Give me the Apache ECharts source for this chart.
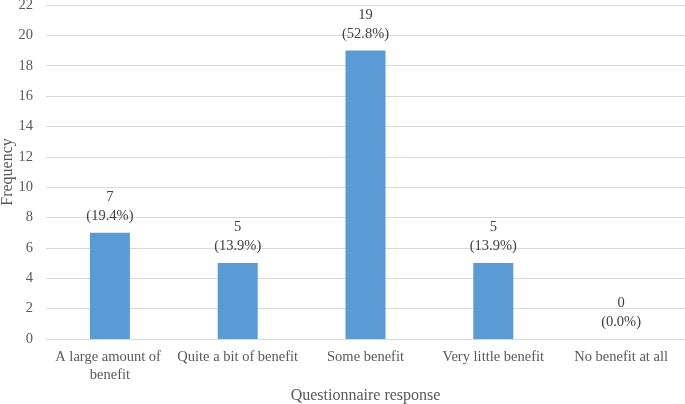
<!DOCTYPE html>
<html><head><meta charset="utf-8">
<script src="https://cdn.jsdelivr.net/npm/echarts@6/dist/echarts.min.js"></script>
<style>html,body{margin:0;padding:0;background:#fff}#c{width:685px;height:404px}</style>
</head><body><div id="c"></div>
<script>
const categories = ['A large amount of benefit','Quite a bit of benefit','Some benefit','Very little benefit','No benefit at all'];
const frequencies = [7,5,19,5,0];
const percents = ['19.4%','13.9%','52.8%','13.9%','0.0%'];
const yTicks = {min:0,max:22,interval:2};

const font = '"Liberation Serif","Times New Roman",serif';
const chart = echarts.init(document.getElementById('c'), null, {renderer:'canvas'});
chart.setOption({
  animation:false,
  grid:{left:46,right:0,top:5,bottom:65,containLabel:false,outerBoundsMode:'none'},
  xAxis:{type:'category',data:categories,
    name:'Questionnaire response',nameLocation:'middle',nameGap:49,nameMoveOverlap:false,
    nameTextStyle:{fontFamily:font,fontSize:16,color:'#595959'},
    axisTick:{show:false},
    axisLine:{lineStyle:{color:'#d9d9d9',width:1}},
    axisLabel:{fontFamily:font,fontSize:14.5,color:'#595959',margin:9,interval:0,width:124,overflow:'break',lineHeight:18}
  },
  yAxis:{type:'value',min:yTicks.min,max:yTicks.max,interval:yTicks.interval,
    name:'Frequency',nameLocation:'middle',nameGap:30,nameRotate:90,nameMoveOverlap:false,
    nameTextStyle:{fontFamily:font,fontSize:16,color:'#595959'},
    axisLine:{show:false},axisTick:{show:false},
    splitLine:{lineStyle:{color:'#d9d9d9',width:1}},
    axisLabel:{fontFamily:font,fontSize:14.5,color:'#595959',margin:13}
  },
  series:[{type:'bar',data:frequencies,barWidth:40,
    itemStyle:{color:'#5b9bd5'},
    label:{show:true,position:'top',distance:7,fontFamily:font,fontSize:14.5,color:'#404040',lineHeight:19,
      formatter:p=>p.value+'\n('+percents[p.dataIndex]+')'}
  }]
});
</script></body></html>
